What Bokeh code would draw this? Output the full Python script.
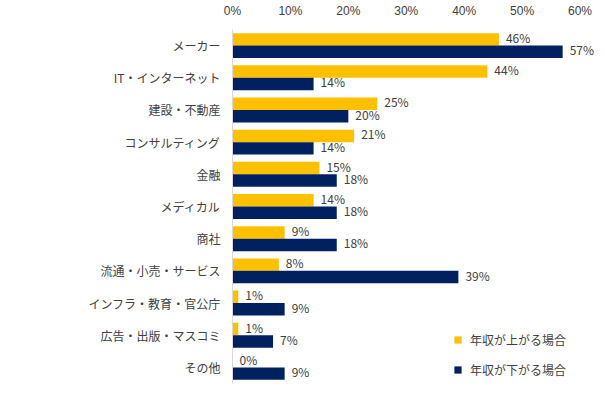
from bokeh.plotting import figure
from bokeh.models import ColumnDataSource, FactorRange, Range1d, Legend, LegendItem, FixedTicker, LabelSet
from bokeh.core.properties import value
from bokeh.transform import dodge
from bokeh.embed import file_html
from bokeh.resources import INLINE

categories = ["メーカー", "IT・インターネット", "建設・不動産", "コンサルティング", "金融", "メディカル",
              "商社", "流通・小売・サービス", "インフラ・教育・官公庁", "広告・出版・マスコミ", "その他"]
up_values = [46, 44, 25, 21, 15, 14, 9, 8, 1, 1, 0]
down_values = [57, 14, 20, 14, 18, 18, 18, 39, 9, 7, 9]
series_names = ["年収が上がる場合", "年収が下がる場合"]
x_ticks = [0, 10, 20, 30, 40, 50, 60]
x_tick_labels = ["0%", "10%", "20%", "30%", "40%", "50%", "60%"]

FONT = "Noto Sans CJK JP"
TICK_FONT = "Liberation Sans"
TEXT_COLOR = "#404040"
YELLOW = "#FFC000"
NAVY = "#002060"

src = ColumnDataSource(dict(
    cat=categories,
    up=up_values,
    down=down_values,
    up_lbl=[f"{v}%" for v in up_values],
    down_lbl=[f"{v}%" for v in down_values],
))

p = figure(width=605, height=393, output_backend="svg", toolbar_location=None,
           y_range=FactorRange(factors=list(reversed(categories)), range_padding=0),
           x_range=Range1d(0, 62.5), x_axis_location="above",
           min_border_left=232, min_border_right=11, min_border_top=28, min_border_bottom=10)
p.outline_line_color = None
p.xgrid.visible = False
p.ygrid.visible = False
p.background_fill_color = None
p.border_fill_color = None

bar_h = 0.387
off = bar_h / 2
r_up = p.hbar(y=dodge("cat", off, range=p.y_range), left=0, right="up", height=bar_h,
              source=src, fill_color=YELLOW, line_color=None)
r_down = p.hbar(y=dodge("cat", -off, range=p.y_range), left=0, right="down", height=bar_h,
                source=src, fill_color=NAVY, line_color=None)

for col, lbl, o in (("up", "up_lbl", off), ("down", "down_lbl", -off)):
    ls = LabelSet(x=col, y=dodge("cat", o, range=p.y_range), text=lbl, source=src,
                  x_offset=7, y_offset=2, text_baseline="middle", text_align="left",
                  text_font=value(FONT), text_font_size=value("12px"), text_color=TEXT_COLOR)
    p.add_layout(ls)

xa = p.xaxis[0]
xa.ticker = FixedTicker(ticks=x_ticks)
xa.major_label_overrides = {t: l for t, l in zip(x_ticks, x_tick_labels)}
xa.axis_line_color = None
xa.major_tick_line_color = None
xa.minor_tick_line_color = None
xa.major_tick_out = 0
xa.major_tick_in = 0
xa.major_label_standoff = 12
xa.major_label_text_font = TICK_FONT
xa.major_label_text_font_size = "12px"
xa.major_label_text_color = TEXT_COLOR

ya = p.yaxis[0]
ya.axis_line_color = "#D9D9D9"
ya.axis_line_width = 1
ya.major_tick_line_color = None
ya.minor_tick_line_color = None
ya.major_tick_out = 0
ya.major_tick_in = 0
ya.major_label_standoff = 12
ya.major_label_text_font = FONT
ya.major_label_text_font_size = "12px"
ya.major_label_text_color = TEXT_COLOR

legend = Legend(items=[LegendItem(label=series_names[0], renderers=[r_up]),
                       LegendItem(label=series_names[1], renderers=[r_down])],
                location=(221, 4), orientation="vertical",
                glyph_width=9, glyph_height=9, label_height=20, spacing=10,
                label_standoff=8, padding=0, margin=0,
                border_line_color=None, background_fill_alpha=0,
                label_text_font=FONT, label_text_font_size="12px", label_text_color=TEXT_COLOR)
p.add_layout(legend, "center")

open("out.html", "w").write(file_html(p, INLINE))
